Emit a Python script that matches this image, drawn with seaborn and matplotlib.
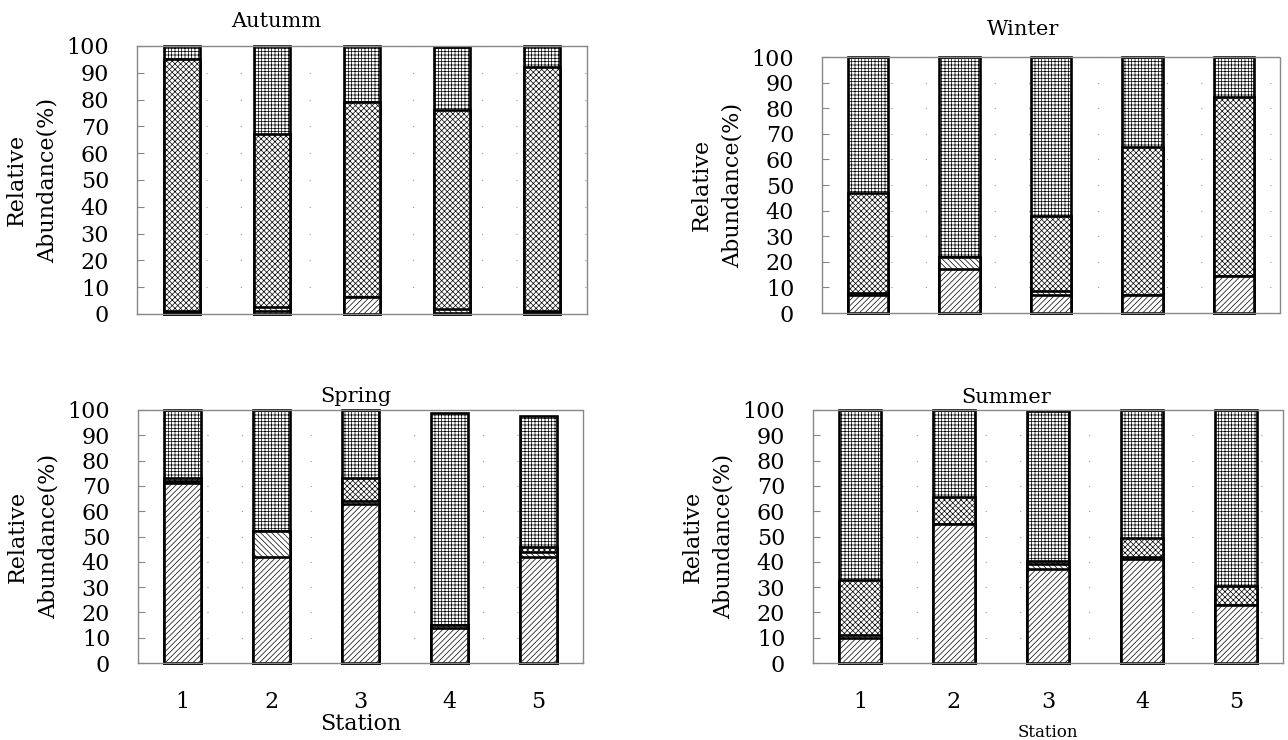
import numpy as np
import pandas as pd
import matplotlib
matplotlib.use('Agg')
import matplotlib.pyplot as plt
import seaborn as sns

sns.set_style('white')
plt.rcParams['font.family'] = ['DejaVu Serif']
plt.rcParams['hatch.linewidth'] = 0.5
for key in ['text.color', 'axes.labelcolor', 'xtick.color', 'ytick.color']:
    plt.rcParams[key] = 'black'

# ── Data (relative abundance %, layers from bottom to top) ───────────────────
STATIONS = ['1', '2', '3', '4', '5']
LAYERS   = ['A', 'B', 'C', 'D']
HATCHES  = {'A': '//////', 'B': '\\\\\\\\\\\\', 'C': 'xxxxxx', 'D': '+++++'}

autumn_a = [0.5, 1.0, 6.5, 0.5, 0.5]
autumn_b = [0.5, 1.5, 0.0, 1.5, 0.5]
autumn_c = [94.0, 64.5, 72.5, 74.0, 91.0]
autumn_d = [5.0, 33.0, 21.0, 23.5, 8.0]

winter_a = [7.0, 17.0, 7.0, 7.0, 14.5]
winter_b = [1.0, 5.0, 1.5, 0.0, 0.0]
winter_c = [39.0, 0.0, 29.5, 58.0, 70.0]
winter_d = [53.0, 78.0, 62.0, 35.0, 15.5]

spring_a = [71.0, 42.0, 63.0, 14.0, 42.0]
spring_b = [1.0, 10.0, 1.0, 1.0, 2.0]
spring_c = [1.0, 0.0, 9.0, 0.0, 2.0]
spring_d = [27.0, 48.0, 27.0, 84.0, 51.5]

summer_a = [10.0, 55.0, 37.0, 41.0, 23.0]
summer_b = [1.0, 0.0, 2.0, 1.0, 0.0]
summer_c = [22.0, 10.5, 1.5, 7.5, 7.5]
summer_d = [67.0, 34.5, 59.0, 50.5, 69.5]

PANELS = [
    # title, layers, axes rect in px (left, bottom, w, h), bar width, title x, title pad, xlabel size, xlabel pad
    ('Autumm', [autumn_a, autumn_b, autumn_c, autumn_d], (137, 314, 450, 268), 0.40, 0.31, 14, None, 0),
    ('Winter', [winter_a, winter_b, winter_c, winter_d], (822, 313, 458, 256), 0.44, 0.44, 16, None, 0),
    ('Spring', [spring_a, spring_b, spring_c, spring_d], (138, 663, 445, 253), 0.42, 0.49, 6, 16, 0),
    ('Summer', [summer_a, summer_b, summer_c, summer_d], (813, 663, 470, 253), 0.44, 0.41, 5, 12, 8),
]

W, H = 1288, 740
fig = plt.figure(figsize=(W / 100, H / 100), dpi=100)

for title, layers, (left, bottom, w, h), bw, tx, tpad, xl_size, xl_pad in PANELS:
    ax = fig.add_axes([left / W, 1 - bottom / H, w / W, h / H])
    df = pd.DataFrame(np.array(layers).T, columns=LAYERS)
    df['station'] = STATIONS
    cum = df[LAYERS].cumsum(axis=1)

    # draw cumulative heights top layer first so lower layers sit on top
    for name in reversed(LAYERS):
        sns.barplot(x=df['station'], y=cum[name], color='white', saturation=1,
                    edgecolor='black', linewidth=1.9, width=bw, hatch=HATCHES[name],
                    errorbar=None, clip_on=False, ax=ax)

    ax.set_xlim(-0.5, 4.5)
    ax.set_ylim(0, 100)
    ax.set_yticks(np.arange(0, 101, 10))
    ax.tick_params(axis='y', direction='in', length=5, width=0.8, color='#888',
                   labelsize=16, pad=20, left=True)
    ax.tick_params(axis='x', length=0, labelsize=16, pad=20)
    ax.yaxis.grid(True, linestyle=(0, (1, 30)), color='#999', linewidth=0.8)
    ax.set_axisbelow(True)
    for sp in ax.spines.values():
        sp.set_visible(True)
        sp.set_linestyle((0, (1.5, 1)))
        sp.set_color('#888')
        sp.set_linewidth(1.0)

    ax.set_ylabel('Relative\nAbundance(%)', fontsize=16, linespacing=1.5, labelpad=6)
    ax.set_title(title, fontsize=15, x=tx, pad=tpad)
    if xl_size is None:
        ax.set_xlabel('')
        ax.set_xticklabels([])
    else:
        ax.set_xlabel('Station', fontsize=xl_size, labelpad=xl_pad)

fig.savefig('out.png', dpi=100)
